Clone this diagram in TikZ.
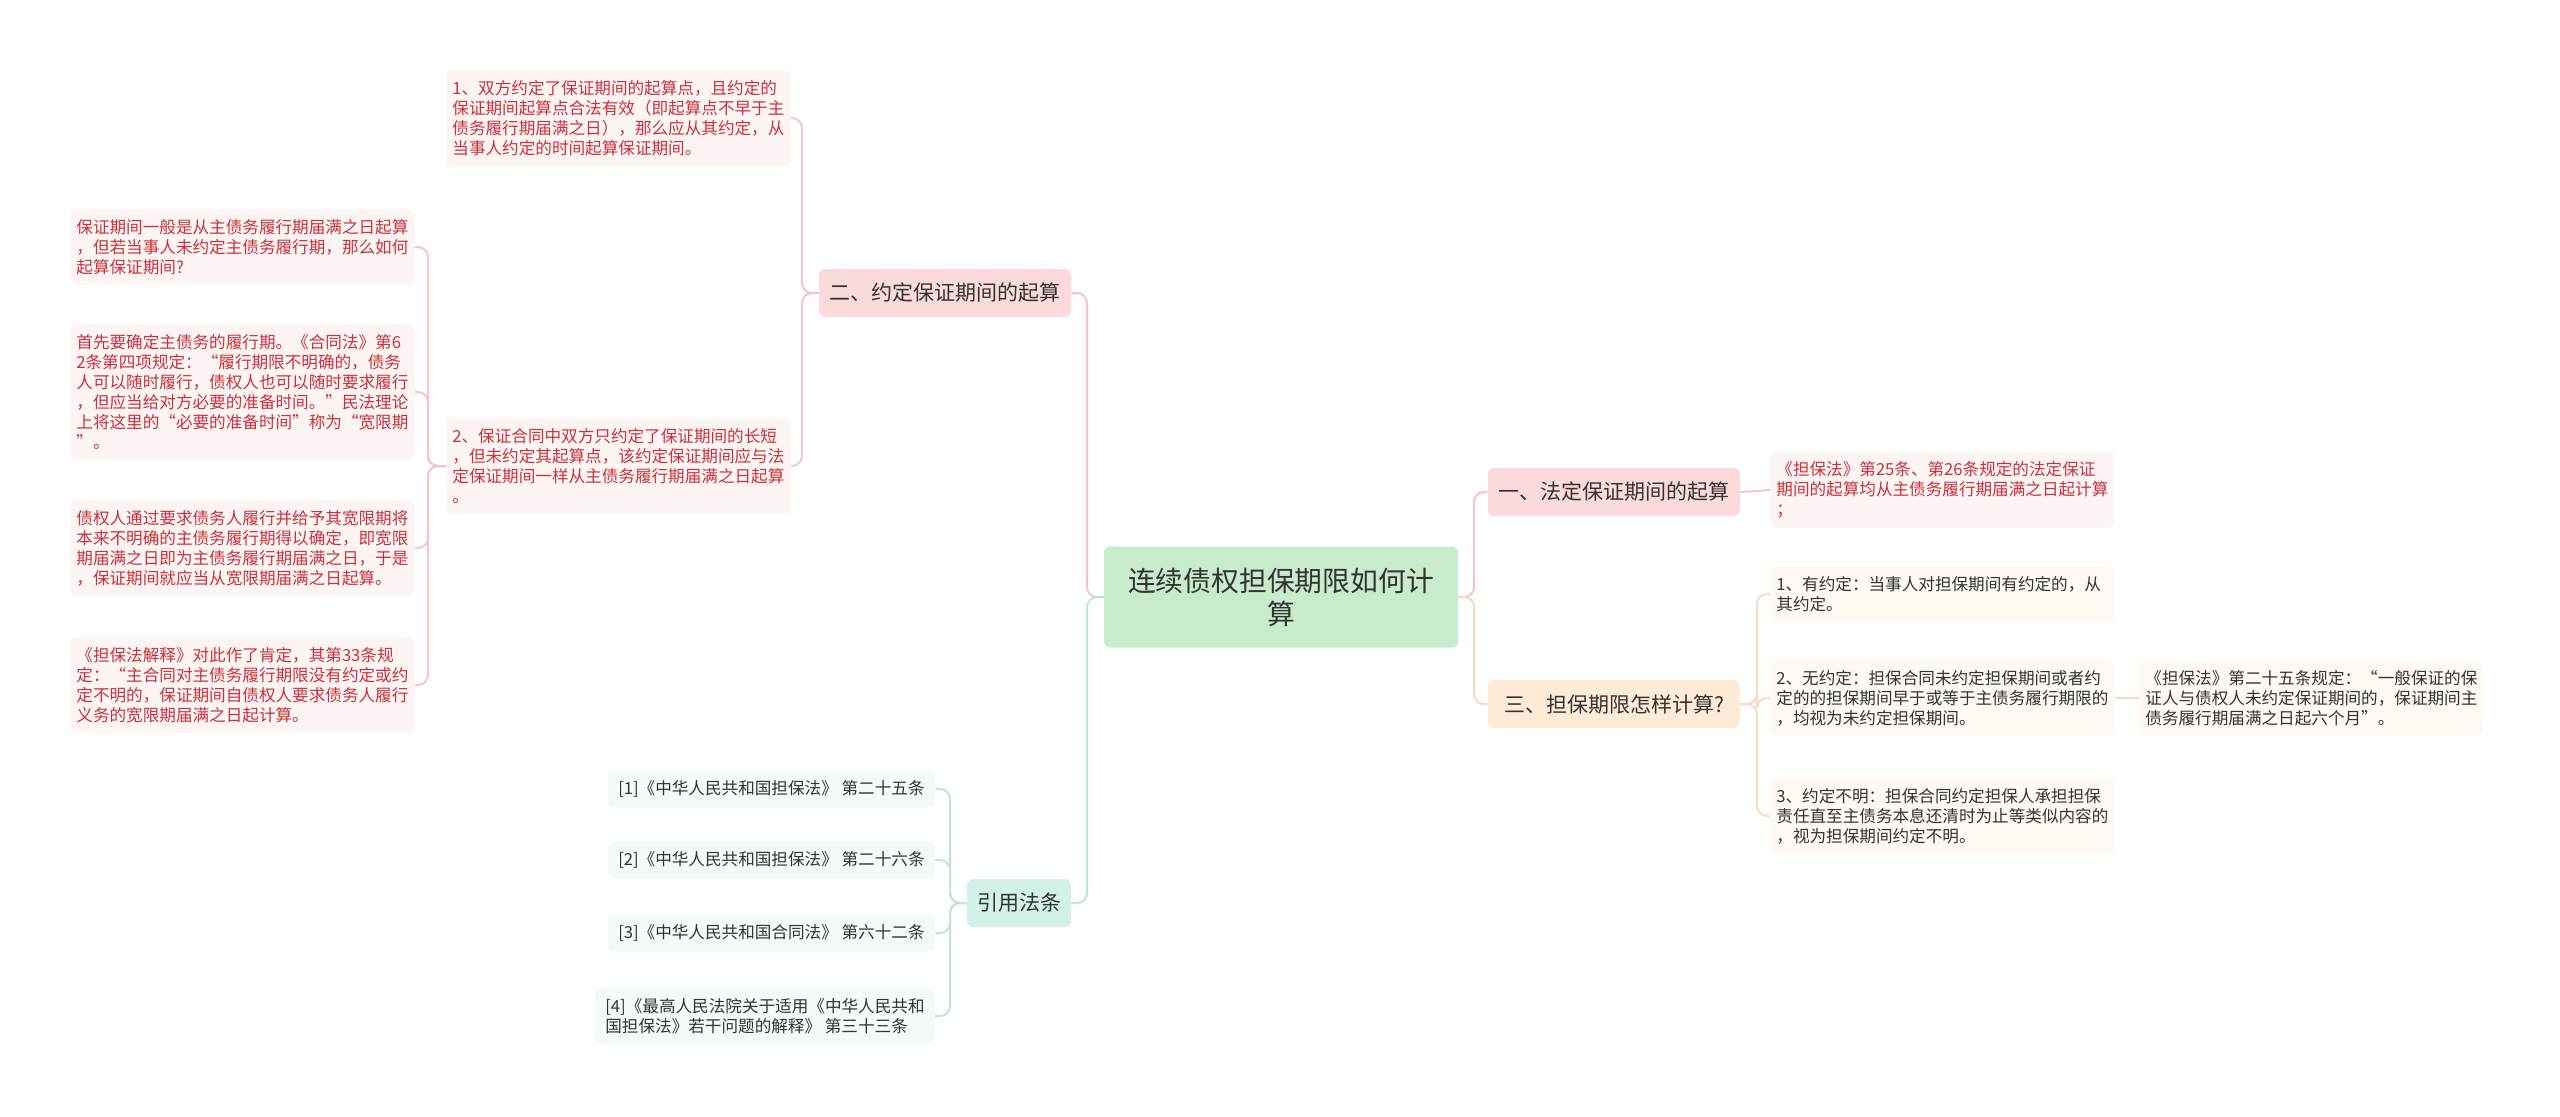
\documentclass[tikz,border=0pt]{standalone}
\usepackage{fontspec}
\setmainfont{Noto Sans CJK SC}
\definecolor{cRoot}{HTML}{C7EBCB}
\definecolor{cPink}{HTML}{FADADA}
\definecolor{cPinkLeaf}{HTML}{FDF4F4}
\definecolor{cPinkLine}{HTML}{F4C6C6}
\definecolor{cPeach}{HTML}{FDEBD8}
\definecolor{cPeachLeaf}{HTML}{FEF9F3}
\definecolor{cPeachLine}{HTML}{F5DCC2}
\definecolor{cTeal}{HTML}{D3F1EB}
\definecolor{cTealLeaf}{HTML}{F3FAF9}
\definecolor{cTealLine}{HTML}{BEE5DD}
\definecolor{cRed}{HTML}{C8323A}
\definecolor{cDark}{HTML}{333333}

\begin{document}
\begin{tikzpicture}[x=0.5pt, y=-0.5pt,
    rootbox/.style={fill=cRoot, rounded corners=3pt, text=cDark, align=center,
        font=\fontsize{13.9}{16.5}\selectfont, minimum width=177pt, minimum height=50.5pt},
    branch/.style={rounded corners=3pt, text=cDark, font=\fontsize{10.5}{12}\selectfont,
        minimum height=24pt, inner xsep=5pt},
    leaf/.style={rounded corners=3pt, align=left, font=\fontsize{8.3}{10}\selectfont,
        text width=166pt, inner xsep=3pt, inner ysep=5pt},
    redleaf/.style={leaf, fill=cPinkLeaf, text=cRed},
    peachleaf/.style={leaf, fill=cPeachLeaf, text=cDark},
    citebox/.style={fill=cTealLeaf, rounded corners=3pt, text=cDark, align=left,
        font=\fontsize{8.3}{10}\selectfont, inner xsep=5pt, inner ysep=5pt},
    pinkconn/.style={draw=cPinkLine, line width=1pt, rounded corners=5pt},
    peachconn/.style={draw=cPeachLine, line width=1pt, rounded corners=5pt},
    tealconn/.style={draw=cTealLine, line width=1pt, rounded corners=5pt}]
    \useasboundingbox (0,0) rectangle (2560,1116);

    % centre and main branches
    \node[rootbox] (root) at (1281,597) {连续债权担保期限如何计\\算};
    \node[branch, fill=cPink, minimum width=126pt] (two) at (945,293) {二、约定保证期间的起算};
    \node[branch, fill=cTeal] (cite) at (1019,903) {引用法条};
    \node[branch, fill=cPink, minimum width=126pt] (one) at (1614,492) {一、法定保证期间的起算};
    \node[branch, fill=cPeach, minimum width=126pt] (three) at (1614,704) {三、担保期限怎样计算?};

    % branch two
    \node[redleaf, anchor=west] (agreed) at (446,118) {1、双方约定了保证期间的起算点，且约定的\\保证期间起算点合法有效（即起算点不早于主\\债务履行期届满之日），那么应从其约定，从\\当事人约定的时间起算保证期间。};
    \node[redleaf, anchor=west] (length) at (446,466) {2、保证合同中双方只约定了保证期间的长短\\，但未约定其起算点，该约定保证期间应与法\\定保证期间一样从主债务履行期届满之日起算\\。};
    \node[redleaf, anchor=west] (general) at (70,247) {保证期间一般是从主债务履行期届满之日起算\\，但若当事人未约定主债务履行期，那么如何\\起算保证期间?};
    \node[redleaf, anchor=west] (grace) at (70,392) {首先要确定主债务的履行期。《合同法》第6\\2条第四项规定：“履行期限不明确的，债务\\人可以随时履行，债权人也可以随时要求履行\\，但应当给对方必要的准备时间。”民法理论\\上将这里的“必要的准备时间”称为“宽限期\\”。};
    \node[redleaf, anchor=west] (creditor) at (70,548) {债权人通过要求债务人履行并给予其宽限期将\\本来不明确的主债务履行期得以确定，即宽限\\期届满之日即为主债务履行期届满之日，于是\\，保证期间就应当从宽限期届满之日起算。};
    \node[redleaf, anchor=west] (interp) at (70,685) {《担保法解释》对此作了肯定，其第33条规\\定：“主合同对主债务履行期限没有约定或约\\定不明的，保证期间自债权人要求债务人履行\\义务的宽限期届满之日起计算。};

    % cited articles
    \node[citebox, anchor=east] (art1) at (935,789) {[1]《中华人民共和国担保法》 第二十五条};
    \node[citebox, anchor=east] (art2) at (935,860) {[2]《中华人民共和国担保法》 第二十六条};
    \node[citebox, anchor=east] (art3) at (935,933) {[3]《中华人民共和国合同法》 第六十二条};
    \node[citebox, anchor=east] (art4) at (935,1016) {[4]《最高人民法院关于适用《中华人民共和\\国担保法》若干问题的解释》 第三十三条};

    % branch one
    \node[redleaf, anchor=west] (legal) at (1770,490) {《担保法》第25条、第26条规定的法定保证\\期间的起算均从主债务履行期届满之日起计算\\；};

    % branch three
    \node[peachleaf, anchor=west] (has) at (1770,594) {1、有约定：当事人对担保期间有约定的，从\\其约定。};
    \node[peachleaf, anchor=west] (none) at (1770,698) {2、无约定：担保合同未约定担保期间或者约\\定的的担保期间早于或等于主债务履行期限的\\，均视为未约定担保期间。};
    \node[peachleaf, anchor=west] (unclear) at (1770,816) {3、约定不明：担保合同约定担保人承担担保\\责任直至主债务本息还清时为止等类似内容的\\，视为担保期间约定不明。};
    \node[peachleaf, anchor=west] (sixmonth) at (2139,698) {《担保法》第二十五条规定：“一般保证的保\\证人与债权人未约定保证期间的，保证期间主\\债务履行期届满之日起六个月”。};

    % connectors
    \draw[pinkconn] (root.west) -- (1087,597) |- (two.east);
    \draw[tealconn] (root.west) -- (1087,597) |- (cite.east);
    \draw[pinkconn] (root.east) -- (1474,597) |- (one.west);
    \draw[peachconn] (root.east) -- (1474,597) |- (three.west);
    \draw[pinkconn] (two.west) -- (802,293) |- (agreed.east);
    \draw[pinkconn] (two.west) -- (802,293) |- (length.east);
    \foreach \n in {general,grace,creditor,interp}
        \draw[pinkconn] (length.west) -- (428,466) |- (\n.east);
    \foreach \n in {art1,art2,art3,art4}
        \draw[tealconn] (cite.west) -- (950,903) |- (\n.east);
    \draw[pinkconn] (one.east) -- (legal.west);
    \foreach \n in {has,none,unclear}
        \draw[peachconn] (three.east) -- (1757,704) |- (\n.west);
    \draw[peachconn] (none.east) -- (sixmonth.west);
\end{tikzpicture}
\end{document}
